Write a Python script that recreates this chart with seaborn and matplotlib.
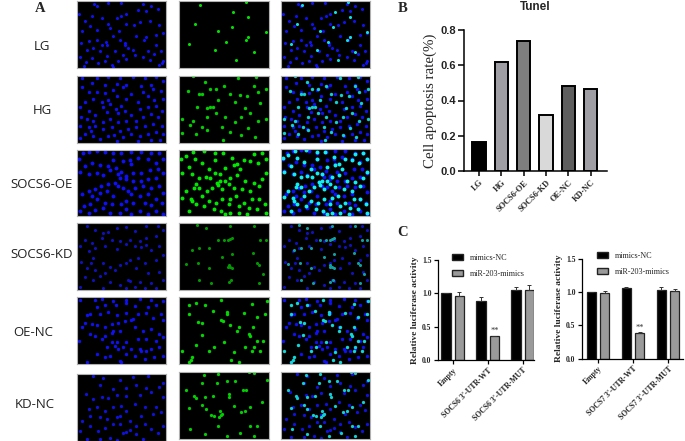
"""
Fluorescence panels (A), Tunel bars (B) and luciferase bars (C)
"""

import matplotlib
matplotlib.use('Agg')
import matplotlib.pyplot as plt
from matplotlib.patches import Patch
import pandas as pd
import seaborn as sns

sns.set_style("ticks")

W, H = 685, 441

# panel A: row names and dots (x 0-270, y 0-200 inside a panel)
rows = ['LG', 'HG', 'SOCS6-OE', 'SOCS6-KD', 'OE-NC', 'KD-NC']

blue_lg = [(52,8),(60,14),(95,6),(133,5),(200,8),(225,14),(245,25),(210,30),(185,26),(150,40),(135,45),(120,52),(75,50),(45,45),(25,60),
           (5,38),(15,90),(40,75),(62,88),(95,68),(100,80),(128,90),(148,68),(172,72),(190,62),(220,60),(250,72),(262,95),(240,100),(210,108),
           (202,115),(180,105),(145,125),(130,115),(110,105),(88,122),(75,130),(60,115),(35,120),(12,125),(30,145),(50,140),(70,150),(90,130),
           (115,150),(145,130),(155,140),(170,145),(215,150),(235,158),(255,148),(262,180),(250,190),(220,175),(200,168),(175,160),(150,172),
           (125,180),(105,190),(85,178),(65,185),(45,170),(28,182),(10,168),(20,195),(258,185),(108,196),(140,160),(90,165),(240,130)]
green_lg = [(63,12),(203,4),(164,32),(208,49),(49,69),(159,78),(117,91),(261,92),(208,107),(201,115),(31,127),(143,122),(110,147),(225,153),(173,175)]

blue_hg = [(15,8),(60,6),(95,5),(130,8),(170,5),(205,8),(240,5),(262,15),(225,28),(195,30),(150,28),(120,25),(85,28),(45,22),(15,35),
           (35,50),(60,48),(85,52),(110,42),(140,35),(165,55),(200,50),(230,40),(255,45),(262,70),(235,72),(215,62),(185,78),(150,70),(120,60),
           (95,72),(75,80),(50,70),(25,78),(8,95),(35,105),(55,118),(80,95),(100,85),(118,100),(135,92),(145,105),(125,112),(90,110),(165,118),
           (190,100),(215,95),(240,92),(258,105),(245,125),(225,115),(200,125),(180,135),(150,135),(125,140),(100,130),(78,140),(50,135),(30,130),(12,125),
           (10,150),(35,155),(42,165),(55,150),(80,160),(105,155),(130,165),(155,160),(178,155),(205,150),(232,145),(258,150),(262,175),(240,170),(215,175),
           (190,180),(165,175),(140,185),(120,195),(95,180),(70,190),(48,182),(25,175),(8,188),(112,178),(185,195),(225,192),(252,192)]
green_hg = [(43,2),(179,8),(233,5),(78,20),(225,31),(28,46),(93,41),(111,41),(135,31),(153,56),(61,56),(69,56),(238,48),(205,60),(183,58),(118,73),
            (93,95),(85,98),(103,93),(53,95),(8,131),(41,135),(33,148),(8,173),(51,176),(83,163),(113,113),(138,125),(188,125),(215,113),(198,98),
            (168,78),(243,81),(263,41),(263,131),(238,135),(168,138),(131,153),(208,156),(188,178),(153,168),(83,123),(68,153),(133,193),(228,183)]

blue_oe = [(5,30),(18,12),(35,8),(60,5),(85,8),(110,32),(108,12),(135,10),(165,8),(195,8),(225,12),(250,12),(262,30),(240,40),(215,30),(185,25),(160,32),(165,45),
           (140,35),(118,55),(95,50),(70,48),(45,40),(25,50),(8,68),(35,75),(60,70),(78,78),(100,62),(125,75),(135,68),(150,80),(170,70),(195,72),(220,62),(245,60),
           (262,72),(240,85),(215,88),(195,95),(170,95),(150,90),(130,85),(115,100),(125,110),(140,115),(155,125),(175,115),(200,110),(225,115),(250,110),(262,130),
           (95,105),(72,110),(55,118),(35,125),(15,135),(45,140),(70,130),(90,125),(110,140),(165,135),(190,140),(215,135),(240,150),(258,160),(225,168),(205,160),
           (170,160),(150,155),(135,165),(105,165),(85,160),(60,150),(40,165),(20,170),(8,185),(35,190),(55,182),(80,175),(100,190),(130,190),(150,180),(165,195),(190,185),(215,195),(240,185),(262,195)]
green_oe = [(5,28),(22,20),(42,8),(75,5),(108,32),(108,10),(133,10),(160,25),(175,45),(195,32),(225,15),(250,12),(262,30),(238,42),(215,35),(185,60),(165,48),
            (140,55),(125,75),(110,72),(90,60),(70,40),(48,28),(30,52),(10,70),(38,75),(60,85),(80,82),(95,85),(115,100),(125,95),(140,95),(155,85),(175,78),(200,95),
            (225,100),(250,88),(262,70),(240,110),(215,125),(190,120),(165,115),(150,105),(130,120),(118,108),(100,115),(85,125),(60,115),(50,105),(45,115),(35,148),(40,155),
            (20,125),(10,145),(70,140),(90,155),(112,160),(130,150),(155,148),(172,140),(195,160),(220,150),(240,150),(258,165),(235,180),(210,175),(180,170),(150,165),
            (128,185),(140,195),(155,190),(105,180),(75,170),(50,165),(30,185),(262,190),(205,195),(180,192)]

blue_kd = [(30,8),(55,20),(80,30),(95,28),(120,15),(150,12),(175,25),(210,10),(245,8),(262,20),(240,40),(210,45),(190,55),(160,50),(130,55),(105,50),(75,45),(45,60),
           (25,50),(8,70),(35,85),(55,75),(85,70),(120,78),(150,62),(175,70),(195,72),(210,65),(225,80),(250,70),(262,95),(240,110),(205,118),(185,105),(160,110),(130,125),
           (100,130),(78,118),(50,105),(42,120),(30,135),(12,115),(55,140),(85,150),(115,140),(150,120),(180,135),(215,150),(250,145),(262,170),(225,180),(190,175),(155,170),
           (130,185),(100,175),(78,195),(50,170),(25,160),(10,190),(150,195),(160,172),(175,190),(205,195),(240,195),(70,158)]
green_kd = [(55,6),(155,8),(225,10),(80,15),(118,52),(135,52),(148,50),(155,48),(160,46),(245,52),(262,50),(40,80),(60,75),(90,75),(130,100),(160,92),(222,90),(20,122),
            (58,120),(90,135),(240,125),(235,120),(148,132),(155,130),(150,125),(160,135),(253,152),(60,170),(98,180),(150,175),(158,170),(240,178)]

blue_oenc = [(10,8),(55,8),(75,5),(110,12),(150,8),(190,5),(225,10),(262,12),(240,25),(215,30),(175,28),(150,18),(118,25),(85,25),(62,30),(38,50),(30,55),(70,50),(95,45),(120,55),
             (148,48),(185,50),(210,48),(232,62),(255,50),(262,70),(170,65),(165,70),(145,72),(125,78),(105,82),(105,108),(110,100),(85,90),(60,85),(45,80),(25,78),(15,90),
             (38,110),(55,115),(75,125),(85,115),(130,100),(175,90),(200,100),(225,95),(250,110),(262,120),(240,130),(210,125),(185,125),(150,135),(120,135),(105,135),(90,150),(115,145),(125,155),
             (140,150),(165,155),(190,155),(195,160),(210,160),(225,155),(250,150),(262,175),(235,180),(205,185),(175,175),(150,170),(130,190),(100,175),(85,180),(60,170),(30,195),(5,130),(135,195)]
green_oenc = [(128,8),(30,24),(50,18),(78,25),(220,20),(265,12),(30,50),(102,42),(145,52),(146,45),(195,48),(235,60),(260,50),(58,75),(70,78),(132,72),(128,70),(155,85),
              (222,90),(175,100),(180,90),(68,112),(212,110),(215,115),(235,130),(52,142),(90,162),(135,135),(200,150),(225,150),(252,132),(10,160),(105,150),(165,165),
              (40,178),(30,195),(35,188),(158,188),(180,195),(220,162),(245,160)]

blue_kdnc = [(50,8),(80,12),(130,18),(170,10),(215,8),(262,28),(70,35),(110,45),(150,42),(180,35),(210,42),(250,40),(28,60),(48,75),(75,70),(95,72),(120,62),(150,65),(190,62),
             (225,55),(262,70),(35,105),(60,100),(85,110),(110,100),(135,95),(150,110),(175,90),(205,100),(240,100),(255,115),(230,120),(195,125),(130,125),(120,130),(90,135),
             (70,130),(40,125),(15,140),(8,170),(40,155),(65,170),(85,160),(110,150),(130,150),(160,140),(180,155),(205,150),(225,165),(245,175),(262,155),(140,175),(150,172),
             (160,168),(180,178),(100,190),(70,195),(200,195),(120,198),(30,195)]
green_kdnc = [(212,2),(225,5),(75,10),(118,8),(68,35),(115,35),(145,28),(170,28),(264,25),(20,55),(192,53),(202,55),(45,72),(50,78),(78,75),(102,72),(150,65),(152,75),(165,102),
              (30,108),(70,100),(80,112),(188,120),(200,118),(215,105),(250,90),(98,130),(105,132),(125,118),(128,130),(130,125),(120,135),(118,162),(215,160),(235,160),(32,170),(78,185),(145,190),(183,183),(225,192)]

blue_dots = [blue_lg, blue_hg, blue_oe, blue_kd, blue_oenc, blue_kdnc]
green_dots = [green_lg, green_hg, green_oe, green_kd, green_oenc, green_kdnc]

# panel B
tunel_groups = ['LG', 'HG', 'SOCS6-OE', 'SOCS6-KD', 'OE-NC', 'KD-NC']
tunel_values = [0.165, 0.62, 0.735, 0.32, 0.485, 0.465]
tunel_colors = ['#000000', '#9d9da5', '#7e7e7e', '#d9d9d9', '#5e5e5e', '#9d9da5']

# panel C
hue_names = ['mimics-NC', 'miR-203-mimics']
socs6_sites = ['Empty', "SOCS6 3'-UTR-WT", "SOCS6 3'-UTR-MUT"]
socs6_nc = [1.0, 0.88, 1.05]
socs6_mim = [0.96, 0.36, 1.05]
socs6_nc_err = [0.0, 0.06, 0.05]
socs6_mim_err = [0.06, 0.01, 0.07]
socs7_sites = ['Empty', "SOCS7 3'-UTR-WT", "SOCS7 3'-UTR-MUT"]
socs7_nc = [1.0, 1.06, 1.03]
socs7_mim = [0.98, 0.38, 1.02]
socs7_nc_err = [0.0, 0.01, 0.04]
socs7_mim_err = [0.04, 0.02, 0.03]


def px_axes(fig, x0, y0, x1, y1):
    """pixel box (y from the top) -> axes"""
    return fig.add_axes([x0 / W, 1 - y1 / H, (x1 - x0) / W, (y1 - y0) / H])


def draw_micro(fig, box, blue=None, green=None, blue_color='#1010f5', green_color='#00e600', size=6):
    ax = px_axes(fig, *box)
    ax.set_facecolor('black')
    if blue:
        sns.scatterplot(x=[p[0] for p in blue], y=[p[1] for p in blue], ax=ax,
                        color=blue_color, s=size, linewidth=0, legend=False)
    if green:
        sns.scatterplot(x=[p[0] for p in green], y=[p[1] for p in green], ax=ax,
                        color=green_color, s=size, linewidth=0, legend=False)
    ax.set_xlim(0, 270)
    ax.set_ylim(200, 0)
    ax.set_xticks([])
    ax.set_yticks([])
    ax.set_xlabel('')
    ax.set_ylabel('')
    for s in ax.spines.values():
        s.set_color('#b0b0b0')
        s.set_linewidth(0.8)


def draw_panel_a(fig):
    col_x = [(77, 166), (179, 268.5), (281, 370)]
    row_y = [[(1, 68)] * 3, [(75.5, 142.5)] * 3, [(149.5, 216), (149.5, 216), (148.5, 216)],
             [(223, 290)] * 3, [(297, 364)] * 3, [(373.7, 441), (371.7, 439), (371.7, 439)]]
    label_pos = [(42, 46), (42, 110), (42, 184), (42, 255), (33, 333), (35, 404)]
    # the KD row is dimmer and the OE row brighter in the reference
    blues = ['#1010f5', '#1010f5', '#1010f5', '#1010c0', '#1010f5', '#1010e0']
    greens = ['#00e000', '#00d000', '#00e800', '#009a00', '#00d800', '#00d000']
    cyans = ['#10e0e0', '#10d0d0', '#10f0f0', '#10a0a0', '#10d8d8', '#10d0d0']
    sizes = [5, 6, 8, 5, 6, 5.5]
    for i, name in enumerate(rows):
        ys = row_y[i]
        draw_micro(fig, (col_x[0][0], ys[0][0], col_x[0][1], ys[0][1]), blue=blue_dots[i],
                   blue_color=blues[i], size=sizes[i])
        draw_micro(fig, (col_x[1][0], ys[1][0], col_x[1][1], ys[1][1]), green=green_dots[i],
                   green_color=greens[i], size=sizes[i])
        draw_micro(fig, (col_x[2][0], ys[2][0], col_x[2][1], ys[2][1]), blue=blue_dots[i],
                   green=green_dots[i], blue_color=blues[i], green_color=cyans[i], size=sizes[i])
        fig.text(label_pos[i][0] / W, 1 - label_pos[i][1] / H, name, family='Open Sans',
                 fontsize=9.5, color='#222222', ha='center', va='center')


def draw_panel_b(fig):
    ax = px_axes(fig, 464, 30, 607, 171)
    df = pd.DataFrame({'group': tunel_groups, 'value': tunel_values})
    sns.barplot(data=df, x='group', y='value', hue='group', palette=tunel_colors, legend=False,
                width=0.6, edgecolor='black', linewidth=1.4, ax=ax)
    ax.set_xlim(-0.67, 5.73)
    ax.set_ylim(0, 0.8)
    ax.set_yticks([0.0, 0.2, 0.4, 0.6, 0.8])
    ax.set_yticklabels(['0.0', '0.2', '0.4', '0.6', '0.8'], family='Liberation Sans',
                       fontweight='bold', fontsize=8, color='#222222')
    ax.set_xticks(range(6))
    ax.set_xticklabels(tunel_groups, rotation=45, ha='right', rotation_mode='anchor',
                       family='Liberation Serif', fontweight='bold', fontsize=6)
    ax.set_xlabel('')
    ax.set_ylabel('Cell apoptosis rate(%)', family='Liberation Serif', fontsize=10.8, labelpad=2)
    ax.tick_params(width=1.1, length=4, pad=2, color='black')
    ax.tick_params(axis='x', length=3.5, pad=2)
    sns.despine(ax=ax)
    for s in ['left', 'bottom']:
        ax.spines[s].set_linewidth(1.1)
        ax.spines[s].set_color('black')
    ax.set_title('Tunel', family='Liberation Sans', fontweight='bold', fontsize=8.5, x=0.5, y=1.08)


def draw_luciferase(fig, box, xlim, sites, nc, mim, nc_err, mim_err, legend_xy):
    ax = px_axes(fig, *box)
    df = pd.DataFrame({'site': sites * 2,
                       'kind': [hue_names[0]] * 3 + [hue_names[1]] * 3,
                       'value': nc + mim})
    sns.barplot(data=df, x='site', y='value', hue='kind', palette=['black', '#9a9a9a'],
                width=0.76, gap=0.3, edgecolor='#222222', linewidth=0.9, legend=False, ax=ax)
    # error bars sit on the drawn bars
    bars = [b for b in ax.patches if b.get_height() > 0][:6]
    heights = [b.get_height() for b in bars]
    xs = [b.get_x() + b.get_width() / 2 for b in bars]
    errs = nc_err + mim_err
    ax.errorbar(xs, heights, yerr=[[0] * 6, errs], fmt='none', ecolor='#333333',
                elinewidth=0.7, capsize=1.5, capthick=0.7)
    ax.text(xs[4], heights[4] + errs[4] + 0.005, '**', ha='center', va='bottom', fontsize=6,
            family='Liberation Serif', color='#333333')
    ax.set_xlim(*xlim)
    ax.set_ylim(0, 1.5)
    ax.set_yticks([0.0, 0.5, 1.0, 1.5])
    ax.set_yticklabels(['0.0', '0.5', '1.0', '1.5'], family='Liberation Serif',
                       fontweight='bold', fontsize=5.5)
    ax.set_xticks(range(3))
    ax.set_xticklabels(sites, rotation=45, ha='right', rotation_mode='anchor',
                       family='Liberation Serif', fontweight='bold', fontsize=5.6)
    ax.set_xlabel('')
    ax.set_ylabel('Relative luciferase activity', family='Liberation Serif',
                  fontweight='bold', fontsize=6.8, labelpad=2)
    ax.tick_params(width=0.9, length=3, pad=1.5, color='black')
    sns.despine(ax=ax)
    for s in ['left', 'bottom']:
        ax.spines[s].set_linewidth(0.9)
        ax.spines[s].set_color('black')
    handles = [Patch(facecolor='black', edgecolor='#222222', label=hue_names[0]),
               Patch(facecolor='#9a9a9a', edgecolor='#222222', label=hue_names[1])]
    fig.legend(handles=handles, loc='upper left',
               bbox_to_anchor=(legend_xy[0] / W, 1 - legend_xy[1] / H), frameon=False,
               prop={'family': 'Liberation Serif', 'size': 5.9}, labelspacing=0.95,
               handlelength=1.35, handleheight=0.7, handletextpad=0.85, borderpad=0, borderaxespad=0)


def main():
    fig = plt.figure(figsize=(W / 100, H / 100), dpi=100)
    draw_panel_a(fig)
    draw_panel_b(fig)
    draw_luciferase(fig, (437.7, 260, 534, 360.3), (-0.43, 2.32), socs6_sites,
                    socs6_nc, socs6_mim, socs6_nc_err, socs6_mim_err, (452, 254))
    draw_luciferase(fig, (581.7, 258.7, 683.3, 358.7), (-0.466, 2.44), socs7_sites,
                    socs7_nc, socs7_mim, socs7_nc_err, socs7_mim_err, (597, 252))
    for letter, x, y in [('A', 40, 8), ('B', 403, 8), ('C', 403, 233)]:
        fig.text(x / W, 1 - y / H, letter, family='Liberation Serif', fontweight='bold',
                 fontsize=10.5, ha='center', va='center')
    fig.savefig('out.png', dpi=100)
    plt.close(fig)


if __name__ == '__main__':
    main()
